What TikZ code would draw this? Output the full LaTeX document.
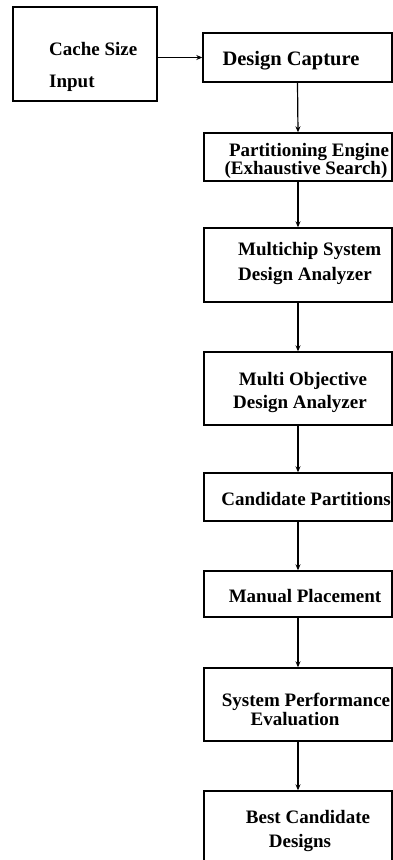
\documentclass[tikz,border=0pt]{standalone}
\usepackage{fontspec}
\setmainfont{Liberation Serif}
\usetikzlibrary{arrows.meta,fit}

\tikzset{
  box/.style={draw=black, line width=1.4pt, inner sep=0pt, fill=none},
  lbl/.style={font=\fontsize{19}{19}\selectfont\bfseries, inner sep=0pt, anchor=base},
  lbll/.style={lbl, anchor=base west},
  flow/.style={draw=black, line width=1.2pt, -{Stealth[length=6pt,width=5pt]}}
}

\begin{document}
\begin{tikzpicture}[x=1pt, y=-1pt]
  \useasboundingbox (0,0) rectangle (393,860);

  % boxes
  \node[box, fit={(13,7) (157,101)}]   (cache) {};
  \node[box, fit={(203,33) (392,82)}]  (dc) {};
  \node[box, fit={(204,133) (392,181)}] (pe) {};
  \node[box, fit={(204,228) (392,302)}] (md) {};
  \node[box, fit={(204,352) (392,425)}] (mo) {};
  \node[box, fit={(204,473) (392,521)}] (cp) {};
  \node[box, fit={(204,571) (392,617)}] (mp) {};
  \node[box, fit={(204,668) (392,741)}] (sp) {};
  \node[box, fit={(204,791) (392,872)}] (bc) {};

  % labels
  \node[lbll] (cacheA) at (49,55) {Cache Size};
  \node[lbll] (cacheB) at (49,87) {Input};
  \node[lbl, font=\fontsize{20.5}{20.5}\selectfont\bfseries] (dcA) at (291,65) {Design Capture};
  \node[lbl] (peA) at (309,156) {Partitioning Engine};
  \node[lbl] (peB) at (306,174) {(Exhaustive Search)};
  \node[lbll] (mdA) at (238,255) {Multichip System};
  \node[lbll] (mdB) at (238,280) {Design Analyzer};
  \node[lbl] (moA) at (303,385) {Multi Objective};
  \node[lbl] (moB) at (300,408) {Design Analyzer};
  \node[lbl] (cpA) at (306,505) {Candidate Partitions};
  \node[lbl] (mpA) at (305,602) {Manual Placement};
  \node[lbl] (spA) at (306,706) {System Performance};
  \node[lbl] (spB) at (295,725) {Evaluation};
  \node[lbl] (bcA) at (308,823) {Best Candidate};
  \node[lbl] (bcB) at (300,847) {Designs};

  % connectors
  \draw[flow] (cache.east |- dc.west) -- (dc.west);
  \draw[flow] (dc.south) -- (pe.north);
  \draw[flow] (pe.south) -- (md.north);
  \draw[flow] (md.south) -- (mo.north);
  \draw[flow] (mo.south) -- (cp.north);
  \draw[flow] (cp.south) -- (mp.north);
  \draw[flow] (mp.south) -- (sp.north);
  \draw[flow] (sp.south) -- (bc.north);
\end{tikzpicture}
\end{document}
